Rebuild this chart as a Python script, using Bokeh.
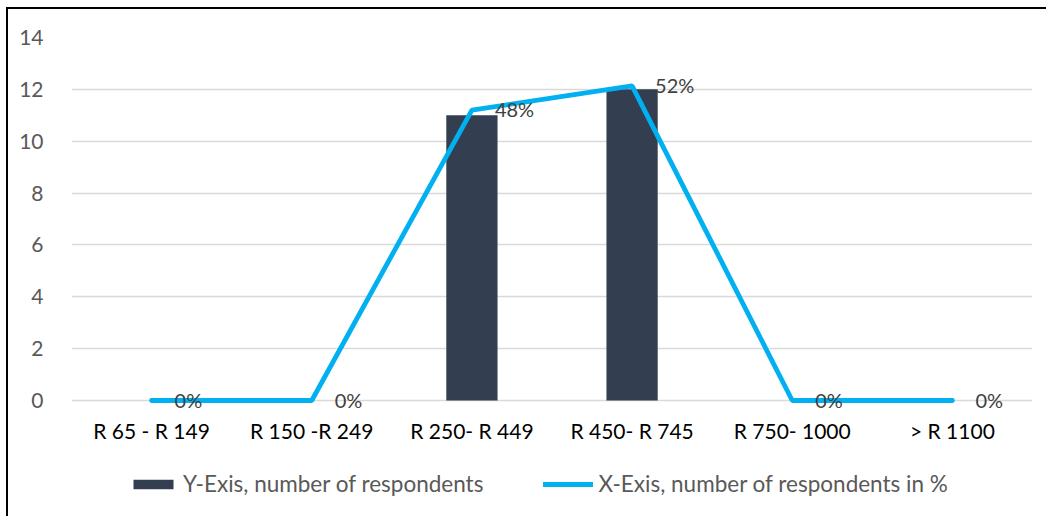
from bokeh.plotting import figure
from bokeh.models import (FactorRange, Range1d, Legend, LegendItem,
                          ColumnDataSource, FixedTicker, LabelSet)
from bokeh.core.properties import value
from bokeh.embed import file_html
from bokeh.resources import INLINE

categories = ["R 65 - R 149", "R 150 -R 249", "R 250- R 449", "R 450- R 745", "R 750- 1000", "> R 1100"]
respondents = [0, 0, 11, 12, 0, 0]
percent = [0.0, 0.0, 0.48, 0.52, 0.0, 0.0]
percent_labels = ["0%", "0%", "48%", "52%", "0%", "0%"]
y_ticks = [0, 2, 4, 6, 8, 10, 12, 14]

FONT = "Lato"
Y_MAX = 14
PCT_MAX = 0.6
Y_LO = -4.55                      # room below the axis for category labels and legend
PCT_LO = Y_LO * PCT_MAX / Y_MAX

src = ColumnDataSource(dict(cat=categories, n=respondents, pct=percent, lab=percent_labels))

p = figure(width=1040, height=509, x_range=FactorRange(*categories, range_padding=0),
           y_range=Range1d(Y_LO, Y_MAX), output_backend="svg", toolbar_location=None,
           min_border_left=63, min_border_right=16, min_border_top=28, min_border_bottom=0)
p.styles = {"margin-left": "6px", "margin-top": "7px",
            "border-left": "2px solid #000", "border-top": "2px solid #000"}
p.outline_line_color = None
p.extra_y_ranges = {"pct": Range1d(PCT_LO, PCT_MAX)}

bars = p.vbar(x="cat", top="n", width=0.32, source=src, fill_color="#333F50", line_color=None)
line = p.line(x="cat", y="pct", source=src, y_range_name="pct", line_color="#00B0F0",
              line_width=4.8, line_cap="round")
labels = LabelSet(x="cat", y="pct", text="lab", source=src, y_range_name="pct", x_offset=23,
                  y_offset=1, text_baseline="middle", text_align="left", text_font=value(FONT),
                  text_font_size=value("20px"), text_color=value("#404040"))
p.add_layout(labels)

p.xgrid.grid_line_color = None
p.ygrid.grid_line_color = "#D9D9D9"
p.ygrid.grid_line_width = 1.5
p.yaxis.ticker = FixedTicker(ticks=y_ticks)
p.yaxis.axis_line_color = None
p.yaxis.major_tick_line_color = None
p.yaxis.minor_tick_line_color = None
p.yaxis.major_label_text_font = FONT
p.yaxis.major_label_text_font_size = "21px"
p.yaxis.major_label_text_color = "#595959"
p.yaxis.major_label_standoff = 22

p.xaxis.fixed_location = 0
p.xaxis.axis_line_color = None
p.xaxis.major_tick_line_color = None
p.xaxis.minor_tick_line_color = None
p.xaxis.major_label_text_font = FONT
p.xaxis.major_label_text_font_size = "21px"
p.xaxis.major_label_text_color = "#000000"
p.xaxis.major_label_standoff = 11

legend = Legend(items=[LegendItem(label="Y-Exis, number of respondents", renderers=[bars]),
                       LegendItem(label="X-Exis, number of respondents in %", renderers=[line])],
                orientation="horizontal", location=(57, 21), border_line_color=None,
                background_fill_alpha=0, label_text_font=FONT, label_text_font_size="22.5px",
                label_text_color="#595959", glyph_width=50, glyph_height=12, spacing=60,
                label_standoff=5, padding=0, margin=0)
p.add_layout(legend, "center")

open("out.html", "w").write(file_html(p, INLINE))
